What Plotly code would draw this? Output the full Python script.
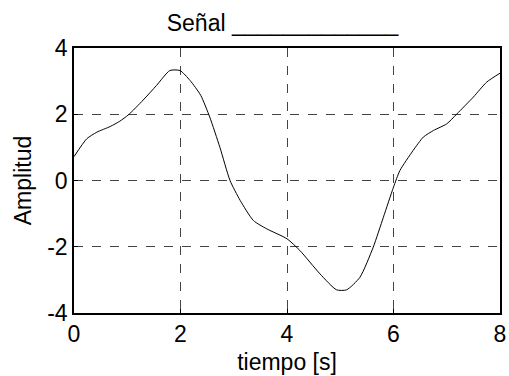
import plotly.graph_objects as go

t = [0, 0.24, 0.43, 0.68, 0.86, 1.02, 1.30, 1.55, 1.80, 1.99, 2.18, 2.38, 2.55, 2.74, 2.93,
     3.12, 3.37, 3.62, 4.0, 4.24, 4.62, 4.93, 5.12, 5.37, 5.62, 5.81, 6.0, 6.12, 6.37,
     6.56, 6.75, 7.0, 7.19, 7.50, 7.75, 8.0]
amp = [0.72, 1.26, 1.46, 1.63, 1.79, 1.98, 2.43, 2.87, 3.32, 3.32, 3.02, 2.57, 1.91, 1.0, 0.0,
       -0.6, -1.21, -1.46, -1.76, -2.11, -2.82, -3.30, -3.30, -2.92, -2.01, -1.11, -0.2, 0.30, 0.91,
       1.31, 1.51, 1.71, 2.01, 2.52, 2.97, 3.24]
xticks = [0, 2, 4, 6, 8]
yticks = [-4, -2, 0, 2, 4]

font = "Liberation Sans, Arial, sans-serif"

fig = go.Figure()
fig.add_trace(go.Scatter(x=t, y=amp, mode="lines",
                         line=dict(color="black", width=1, shape="spline", smoothing=0.6),
                         showlegend=False, hoverinfo="skip"))

axis_common = dict(showline=True, mirror=True, linecolor="black", linewidth=1.5,
                   showgrid=True, gridcolor="#444444", griddash="dash", gridwidth=1,
                   zeroline=False, ticks="inside", ticklen=4, tickcolor="black",
                   automargin=False,
                   tickfont=dict(family=font, size=23, color="black"))

fig.update_xaxes(range=[0, 8], tickvals=xticks, ticktext=[str(v) for v in xticks],
                 title=dict(text="tiempo [s]", font=dict(family=font, size=23, color="black"), standoff=8),
                 **axis_common)
fig.update_yaxes(range=[-4, 4], tickvals=yticks, ticktext=[str(v) for v in yticks],
                 ticklabelstandoff=0,
                 title=dict(text="Amplitud", font=dict(family=font, size=23, color="black"), standoff=9),
                 **axis_common)

fig.update_layout(
    width=509, height=376,
    margin=dict(l=74, r=9, t=48, b=63),
    plot_bgcolor="white", paper_bgcolor="white",
    title=dict(text="Señal _____________", x=0.555, xanchor="center", y=0.918, yanchor="bottom",
               font=dict(family=font, size=23, color="black")),
)

fig.write_html("out.html")
